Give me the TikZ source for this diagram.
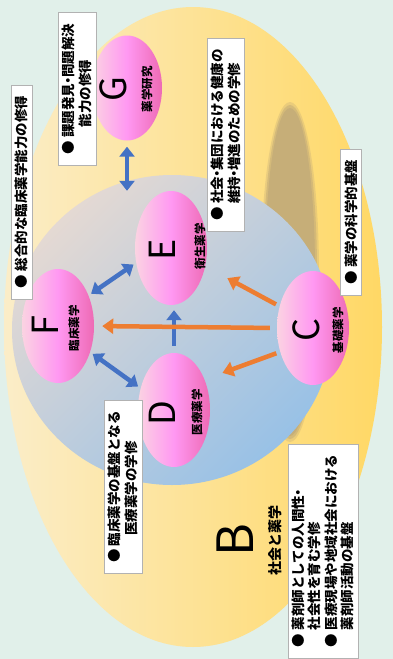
\documentclass[tikz,border=0pt]{standalone}
\usepackage{fontspec}
\setmainfont{Noto Sans CJK JP}
\usetikzlibrary{shapes.geometric,arrows.meta}
\definecolor{mint}{HTML}{E1F0EA}
\definecolor{sunA}{HTML}{FBEDC8}
\definecolor{sunB}{HTML}{FFD865}
\definecolor{shadowc}{HTML}{C6AE78}
\definecolor{skyA}{HTML}{E4D9D3}
\definecolor{skyB}{HTML}{98C1E6}
\definecolor{pinkA}{HTML}{FBD3E2}
\definecolor{pinkB}{HTML}{FF98F2}
\definecolor{pinkC}{HTML}{EE6AB4}
\definecolor{arrblue}{HTML}{4472C4}
\definecolor{arrorange}{HTML}{ED7D31}
\newcommand\mdot{\makebox[0.45em]{・}}

\begin{document}
\begin{tikzpicture}[x=1pt, y=-1pt,
  ball/.style={ellipse, minimum width=72pt, minimum height=114pt, inner sep=0pt,
    left color=pinkA, right color=pinkC, middle color=pinkB},
  letter/.style={rotate=90, inner sep=0pt, font=\fontsize{36}{36}\selectfont},
  sub/.style={rotate=90, inner sep=0pt, font=\bfseries\fontsize{11.5}{12}\selectfont},
  box/.style={draw=gray!60, fill=white, rotate=90, align=left, inner xsep=11pt, inner ysep=4pt,
    font=\bfseries\fontsize{13.5}{16.5}\selectfont},
  twoway/.style={draw=arrblue, line width=4.5pt,
    {Triangle[width=15pt,length=10pt]}-{Triangle[width=15pt,length=10pt]}},
  oneway/.style={draw=arrblue, line width=4.5pt, -{Triangle[width=15pt,length=10pt]}},
  feed/.style={draw=arrorange, line width=4.5pt, -{Triangle[width=15pt,length=11pt]}}]

% background
\fill[mint] (0, 0) rectangle (393, 659);
\shade[left color=sunA, right color=sunB] (193, 327) ellipse [x radius=189pt, y radius=320pt];
\fill[shadowc, opacity=0.35] (290, 272) ellipse [x radius=29pt, y radius=170pt];
\fill[shadowc, opacity=0.6] (290, 272) ellipse [x radius=27pt, y radius=167pt];
\fill[shadowc] (290, 272) ellipse [x radius=25pt, y radius=164pt];
\shade[top color=skyA, bottom color=skyB, shading angle=45] (172, 330) ellipse [x radius=160pt, y radius=155pt];

% balls
\draw (127, 88) node[ball, minimum width=70pt, minimum height=105pt] (g) {};
\draw (171, 248) node[ball] (e) {};
\draw (58, 326) node[ball] (f) {};
\draw (174, 410) node[ball] (d) {};
\draw (313, 328) node[ball] (c) {};

\draw (113, 89) node[letter] (gl) {G};
\draw (162, 250) node[letter] (el) {E};
\draw (45, 326) node[letter] (fl) {F};
\draw (162, 413) node[letter] (dl) {D};
\draw (306, 330) node[letter] (cl) {C};
\draw (235, 540) node[letter, font=\fontsize{50}{50}\selectfont] (bl) {B};

\draw (147, 89) node[sub] (gs) {薬学研究};
\draw (200, 246) node[sub] (es) {衛生薬学};
\draw (74, 328) node[sub] (fs) {臨床薬学};
\draw (197, 412) node[sub] (ds) {医療薬学};
\draw (338, 330) node[sub] (cs) {基礎薬学};
\draw (275, 540) node[sub, font=\bfseries\fontsize{14}{14}\selectfont] (bs) {社会と薬学};

% boxes
\draw (21.5, 192) node[box] (aim) {● 総合的な臨床薬学能力の修得};
\draw (77, 89) node[box] (task) {● 課題発見\mdot 問題解決\\\hspace*{2em}能力の修得};
\draw (226, 135) node[box] (health) {● 社会\mdot 集団における健康の\\\phantom{● }維持\mdot 増進のための学修};
\draw (351, 222) node[box] (base) {● 薬学の科学的基盤};
\draw (123, 487) node[box] (clin) {● 臨床薬学の基盤となる\\\hspace*{2em}医療薬学の学修};
\draw (323, 551) node[box] (soc) {● 薬剤師としての人間性\mdot\\\phantom{● }社会性を育む学修\\● 医療現場や地域社会における\\\phantom{● }薬剤師活動の基盤};

% arrows
\draw[twoway, shorten <=6pt] (g.south) -- (g.south |- e.north);
\draw[twoway, shorten <=3pt, shorten >=3pt] (e.203) -- (f.45);
\draw[twoway, shorten <=3pt, shorten >=3pt] (f.-39) -- (d.147);
\draw[oneway, shorten <=7pt, shorten >=5pt] (d.north) -- (d.north |- e.south);
\draw[feed, shorten <=7pt, shorten >=8pt] (c.west) -- (f.east);
\draw[feed, shorten <=4pt, shorten >=25pt] (c.147) -- (e.-28);
\draw[feed, shorten <=4pt, shorten >=19pt] (c.216) -- (d.45);
\end{tikzpicture}
\end{document}
